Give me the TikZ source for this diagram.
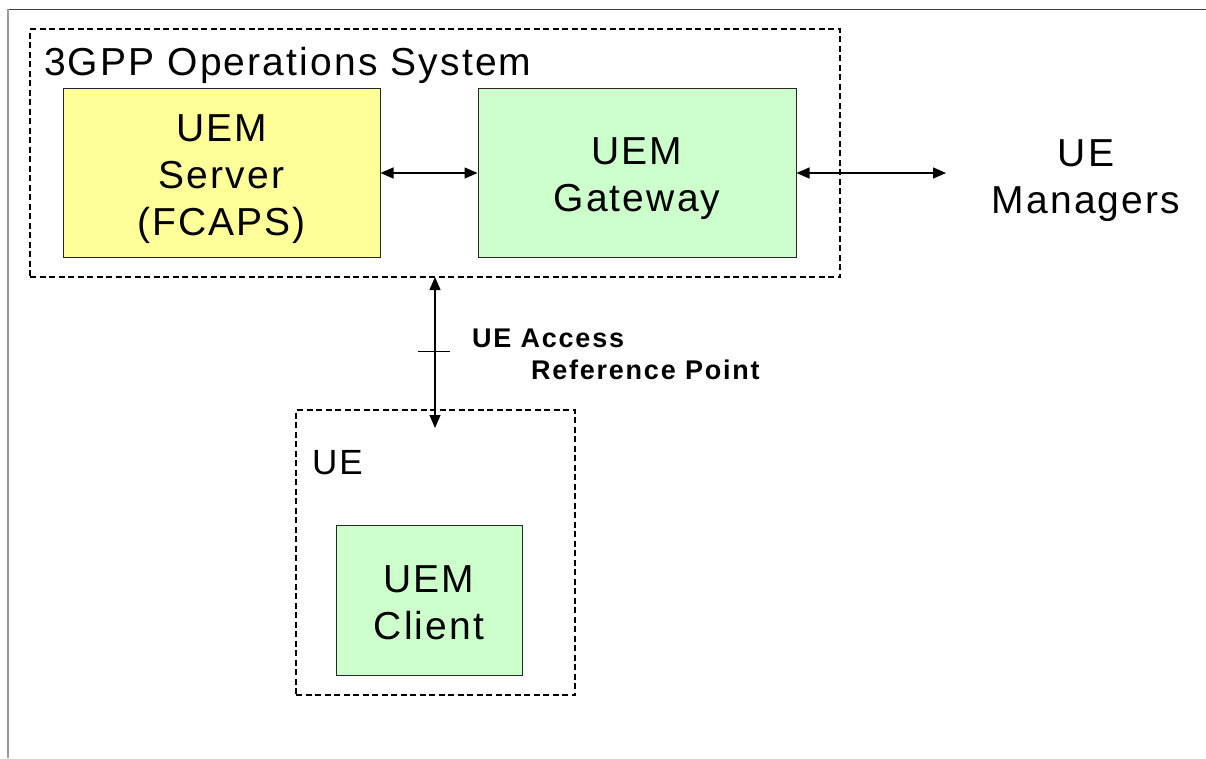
\documentclass[tikz,border=0pt]{standalone}
\usepackage{fontspec}
\setmainfont{Liberation Sans}[LetterSpace=5.5]
\usetikzlibrary{arrows.meta}
\definecolor{srvyellow}{RGB}{255,255,153}
\definecolor{gwgreen}{RGB}{204,255,204}
\tikzset{
  x=1pt, y=-1pt,
  groupbox/.style={draw=black, line width=1.3pt, dash pattern=on 6pt off 3.5pt, inner sep=0pt},
  funcbox/.style={draw=black!85, line width=1pt, inner sep=0pt},
  bigtext/.style={inner sep=0pt, align=center, font=\fontsize{39}{47}\selectfont},
  biarrow/.style={line width=1.3pt, {Triangle[length=13pt,width=11pt]}-{Triangle[length=13pt,width=11pt]}},
  reflabel/.style={inner sep=0pt, font=\fontsize{27}{32}\addfontfeatures{LetterSpace=6.5}\selectfont\bfseries, anchor=base west}
}
\begin{document}
\begin{tikzpicture}
\useasboundingbox (0,0) rectangle (1206,758);
% page frame lines
\draw[line width=1pt, black!75] (8,9) -- (1206,9);
\draw[line width=1.2pt, black!40] (8,9) -- (8,758);
% groups
\node[groupbox, minimum width=810pt, minimum height=248pt] (os) at (435,153) {};
\node[bigtext, anchor=base west] (oslabel) at (44,75) {3GPP Operations System};
\node[funcbox, fill=srvyellow, minimum width=317pt, minimum height=169pt] (server) at (221.5,172.5) {};
\node[bigtext] (servertext) at (221.5,179) {UEM\\Server\\(FCAPS)};
\node[funcbox, fill=gwgreen, minimum width=318pt, minimum height=169pt] (gateway) at (637,172.5) {};
\node[bigtext] (gatewaytext) at (637,179) {UEM\\Gateway};
\node[bigtext] (mgr) at (1086,181) {UE\\Managers};
\coordinate (mgrend) at (946,173);
\node[groupbox, minimum width=279pt, minimum height=285pt] (ue) at (435.5,552.5) {};
\node[inner sep=0pt, anchor=base west, font=\fontsize{35}{42}\selectfont] (uelabel) at (312,474) {UE};
\node[funcbox, fill=gwgreen, minimum width=186pt, minimum height=150pt] (client) at (429,600) {};
\node[bigtext] (clienttext) at (429,603) {UEM\\Client};
% connectors
\draw[biarrow] (server.east |- 0,173) -- (gateway.west |- 0,173);
\draw[biarrow] (gateway.east |- 0,173) -- (mgrend);
\coordinate (vtop) at (435,277);
\coordinate (vbot) at (435,428);
\draw[biarrow] (vtop) -- (vbot);
\coordinate (tickl) at (418,351);
\coordinate (tickr) at (450,351);
\draw[line width=0.9pt] (tickl) -- (tickr);
\node[reflabel] (ref1) at (472,347) {UE Access};
\node[reflabel] (ref2) at (531,379) {Reference Point};
\end{tikzpicture}
\end{document}
